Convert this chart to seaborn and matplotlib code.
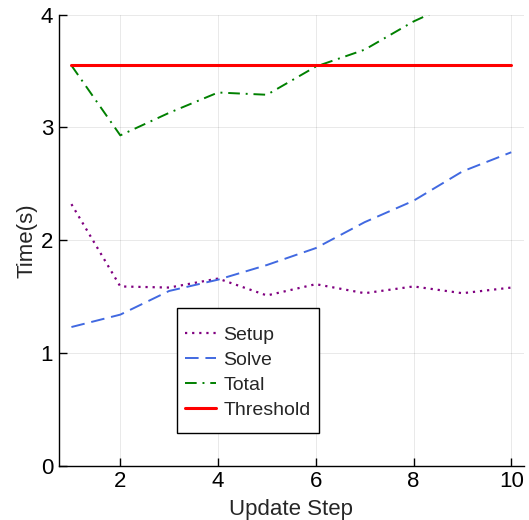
import matplotlib
matplotlib.use("Agg")
import matplotlib.pyplot as plt
from matplotlib.patches import Rectangle
import seaborn as sns
import pandas as pd

steps = [1, 2, 3, 4, 5, 6, 7, 8, 9, 10]
setup = [2.32, 1.59, 1.58, 1.66, 1.51, 1.61, 1.53, 1.59, 1.53, 1.58]
solve = [1.23, 1.34, 1.55, 1.65, 1.78, 1.93, 2.16, 2.35, 2.61, 2.78]
total = [3.55, 2.93, 3.13, 3.31, 3.29, 3.54, 3.69, 3.94, 4.14, 4.36]
threshold = [3.55] * 10

x_ticks = [2, 4, 6, 8, 10]
y_ticks = [0, 1, 2, 3, 4]

sns.set_theme(style="white")
plt.rcParams["font.family"] = ["Liberation Sans", "DejaVu Sans"]

df = pd.DataFrame({"step": steps, "Setup": setup, "Solve": solve,
                   "Total": total, "Threshold": threshold})

fig = plt.figure(figsize=(5.29, 5.20), dpi=100)
ax = fig.add_axes([0.111, 0.1044, 0.8795, 0.8673])

styles = [
    ("Setup", "#800080", (0, (1, 2.2)), 1.6),
    ("Solve", "#4169e1", (0, (7, 3.5)), 1.4),
    ("Total", "#008000", (0, (6, 3, 1, 3)), 1.4),
    ("Threshold", "#ff0000", "-", 2.2),
]
for name, color, ls, lw in styles:
    sns.lineplot(data=df, x="step", y=name, ax=ax, color=color,
                 linestyle=ls, linewidth=lw, label=name)

ax.set_xlim(0.74, 10.26)
ax.set_ylim(0, 4)
ax.set_xticks(x_ticks)
ax.set_yticks(y_ticks)
ax.grid(True, color="black", alpha=0.1, linewidth=0.6)
for side in ["top", "right"]:
    ax.spines[side].set_visible(False)
for side in ["left", "bottom"]:
    ax.spines[side].set_color("black")
    ax.spines[side].set_linewidth(1.0)
ax.tick_params(direction="in", length=6, width=1, labelsize=16,
               colors="black", left=True, bottom=True, pad=4)
ax.set_xlabel("Update Step", fontsize=16, labelpad=5)
ax.set_ylabel("Time(s)", fontsize=16, labelpad=2)

# legend box (axes fraction): left, bottom, right, top
box_l, box_b, box_r, box_t = 0.2536, 0.0725, 0.5594, 0.3497
ax.add_patch(Rectangle((box_l, box_b), box_r - box_l, box_t - box_b,
                       transform=ax.transAxes, facecolor="white",
                       edgecolor="black", linewidth=1.0, zorder=4.5,
                       clip_on=False))
leg = ax.legend(loc="center",
                bbox_to_anchor=((box_l + box_r) / 2, (box_b + box_t) / 2 - 0.005),
                borderaxespad=0, frameon=False, fontsize=14,
                handlelength=1.6, labelspacing=0.38, borderpad=0.3,
                handletextpad=0.35)
leg.set_zorder(5)

fig.savefig("out.png", dpi=100)
